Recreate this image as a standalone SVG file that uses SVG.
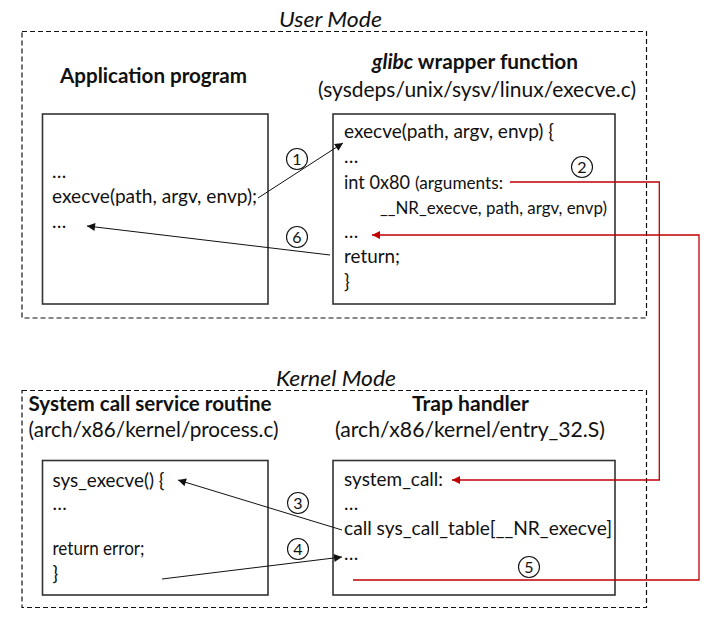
<svg xmlns="http://www.w3.org/2000/svg" width="722" height="624" viewBox="0 0 722 624">
<style>
  text { font-family: Lato, "Open Sans", "Liberation Sans", sans-serif; fill: #111; }
  .hdr { font-size: 21px; font-weight: bold; }
  .sub { font-size: 21px; }
  .mode { font-size: 21px; font-style: italic; }
  .code { font-size: 19px; }
  .small { font-size: 17px; }
  .num { font-size: 16px; text-anchor: middle; }
  .zone { fill: none; stroke: #111; stroke-width: 1.2; stroke-dasharray: 5 3; }
  .box { fill: #fff; stroke: #333; stroke-width: 1.6; }
  .blk { fill: none; stroke: #111; stroke-width: 1; marker-end: url(#ab); }
  .red { fill: none; stroke: #c00000; stroke-width: 1.3; marker-end: url(#ar); }
  .circ { fill: #fff; stroke: #111; stroke-width: 1.1; }
</style>
<defs>
  <marker id="ab" viewBox="0 0 10 10" refX="10" refY="5" markerWidth="10" markerHeight="8" markerUnits="userSpaceOnUse" orient="auto">
    <path d="M0,0 L10,5 L0,10 z" fill="#111"/>
  </marker>
  <marker id="ar" viewBox="0 0 10 10" refX="10" refY="5" markerWidth="10" markerHeight="8" markerUnits="userSpaceOnUse" orient="auto">
    <path d="M0,0 L10,5 L0,10 z" fill="#c00000"/>
  </marker>
</defs>

<g id="user-mode">
  <rect class="zone" x="22" y="31.5" width="624.5" height="286.5"/>
  <text class="mode" x="279" y="27" textLength="103" lengthAdjust="spacingAndGlyphs">User Mode</text>
</g>
<g id="kernel-mode">
  <rect class="zone" x="22" y="390.5" width="624.5" height="217"/>
  <text class="mode" x="276" y="386" textLength="120" lengthAdjust="spacingAndGlyphs">Kernel Mode</text>
</g>

<g id="application-program">
  <text class="hdr" x="60" y="83" textLength="187" lengthAdjust="spacingAndGlyphs">Application program</text>
  <rect class="box" x="42.5" y="114" width="225.5" height="190"/>
  <text class="code" x="52" y="178">…</text>
  <text class="code" x="52" y="203" textLength="205" lengthAdjust="spacingAndGlyphs">execve(path, argv, envp);</text>
  <text class="code" x="52" y="228">…</text>
</g>

<g id="glibc-wrapper">
  <text class="hdr" x="372" y="69" textLength="206" lengthAdjust="spacingAndGlyphs"><tspan font-style="italic">glibc</tspan> wrapper function</text>
  <text class="sub" x="318" y="97" textLength="318" lengthAdjust="spacingAndGlyphs">(sysdeps/unix/sysv/linux/execve.c)</text>
  <rect class="box" x="333" y="114" width="282" height="190"/>
  <text class="code" x="344" y="138" textLength="210" lengthAdjust="spacingAndGlyphs">execve(path, argv, envp) {</text>
  <text class="code" x="344" y="163">…</text>
  <text class="code" x="344" y="189" textLength="66" lengthAdjust="spacingAndGlyphs">int 0x80</text>
  <text class="small" x="415" y="189" textLength="88" lengthAdjust="spacingAndGlyphs">(arguments:</text>
  <text class="small" x="380" y="214" textLength="227" lengthAdjust="spacingAndGlyphs">__NR_execve, path, argv, envp)</text>
  <text class="code" x="344" y="238">…</text>
  <text class="code" x="344" y="263" textLength="56" lengthAdjust="spacingAndGlyphs">return;</text>
  <text class="code" x="344" y="288">}</text>
</g>

<g id="service-routine">
  <text class="hdr" x="28.5" y="411" textLength="243" lengthAdjust="spacingAndGlyphs">System call service routine</text>
  <text class="sub" x="28.5" y="437" textLength="250" lengthAdjust="spacingAndGlyphs">(arch/x86/kernel/process.c)</text>
  <rect class="box" x="42.5" y="460.5" width="225.5" height="134.5"/>
  <text class="code" x="52.5" y="487" textLength="112" lengthAdjust="spacingAndGlyphs">sys_execve() {</text>
  <text class="code" x="52.5" y="510">…</text>
  <text class="code" x="52.5" y="555" textLength="92" lengthAdjust="spacingAndGlyphs">return error;</text>
  <text class="code" x="52.5" y="580">}</text>
</g>

<g id="trap-handler">
  <text class="hdr" x="412" y="411" textLength="117" lengthAdjust="spacingAndGlyphs">Trap handler</text>
  <text class="sub" x="335" y="437" textLength="270" lengthAdjust="spacingAndGlyphs">(arch/x86/kernel/entry_32.S)</text>
  <rect class="box" x="333" y="460.5" width="282" height="134.5"/>
  <text class="code" x="344" y="486" textLength="99" lengthAdjust="spacingAndGlyphs">system_call:</text>
  <text class="code" x="344" y="510">…</text>
  <text class="code" x="344" y="535" textLength="268" lengthAdjust="spacingAndGlyphs">call sys_call_table[__NR_execve]</text>
  <text class="code" x="344" y="560">…</text>
</g>

<g id="connectors">
  <path class="blk" d="M258,198 L343,143"/>
  <path class="blk" d="M330,255 L87,226"/>
  <path class="red" d="M510,182 H659.3 V480 H452"/>
  <path class="blk" d="M342,530 L178,480"/>
  <path class="blk" d="M162,579 L342,557"/>
  <path class="red" d="M353,580 H699 V235 H372"/>
  <circle class="circ" cx="297" cy="159" r="10.5"/><text class="num" x="297" y="164.5">1</text>
  <circle class="circ" cx="582" cy="167" r="10.5"/><text class="num" x="582" y="172.5">2</text>
  <circle class="circ" cx="298" cy="503" r="10.5"/><text class="num" x="298" y="508.5">3</text>
  <circle class="circ" cx="298" cy="549" r="10.5"/><text class="num" x="298" y="554.5">4</text>
  <circle class="circ" cx="529" cy="567" r="10.5"/><text class="num" x="529" y="572.5">5</text>
  <circle class="circ" cx="297" cy="237" r="10.5"/><text class="num" x="297" y="242.5">6</text>
</g>
</svg>
